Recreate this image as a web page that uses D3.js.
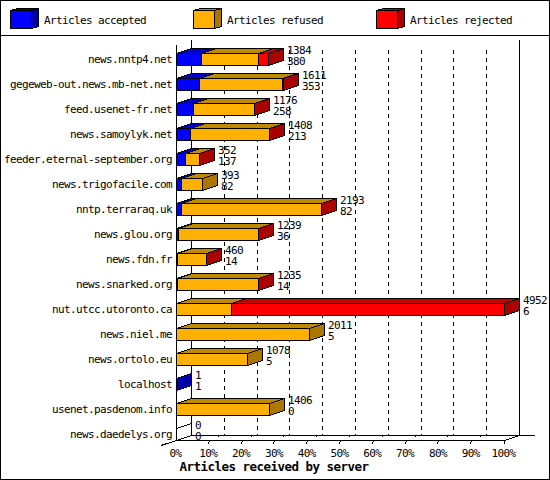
<html>
<head>
<title>Articles received by server</title>
<script src="https://d3js.org/d3.v7.min.js"></script>
<style>
  body { margin: 0; background: #fff; }
  svg { display: block; }
  text { font-family: "DejaVu Sans Mono", monospace; font-size: 11px; letter-spacing: -0.62px; fill: #000; }
  .axislabel { font-weight: bold; font-size: 12.5px; letter-spacing: -0.53px; }
  .face { stroke: #000; stroke-width: 1; shape-rendering: crispEdges; }
  .rule { stroke: #000; stroke-width: 1; shape-rendering: crispEdges; fill: none; }
</style>
</head>
<body>
<svg id="graph" width="550" height="480"></svg>
<script>
const servers = ["news.nntp4.net","gegeweb-out.news.mb-net.net","feed.usenet-fr.net","news.samoylyk.net",
  "feeder.eternal-september.org","news.trigofacile.com","nntp.terraraq.uk","news.glou.org","news.fdn.fr",
  "news.snarked.org","nut.utcc.utoronto.ca","news.niel.me","news.ortolo.eu","localhost",
  "usenet.pasdenom.info","news.daedelys.org"];
const accepted = [380,353,258,213,137,82,82,36,14,14,6,5,5,1,0,0];
const refused  = [855,1248,914,1192,207,311,2106,1200,444,1219,825,2006,1073,0,1406,0];
const rejected = [149,10,4,3,8,0,5,3,2,2,4121,0,0,0,0,0];
const totals   = [1384,1611,1176,1408,352,393,2193,1239,460,1235,4952,2011,1078,1,1406,0];
const percentTicks = [0,10,20,30,40,50,60,70,80,90,100];
const seriesNames = ["Articles accepted","Articles refused","Articles rejected"];
const faceColors = [
  {front:"#0000ff", top:"#0000c8", side:"#0000aa"},
  {front:"#ffb000", top:"#c08a00", side:"#aa7800"},
  {front:"#ff0000", top:"#c80000", side:"#aa0000"}
];

const canvas = d3.select("svg#graph");
const depthX = 15, depthY = -5;

const percentScale = d3.scaleLinear().domain([0,100]).range([176,504]);
const valueScale = d3.scaleLinear().domain([0,d3.max(totals)]).range([176,504]);
const rowScale = d3.scaleBand().domain(servers).range([40,440]);

const poly = pts => pts.map(p => p.join(",")).join(" ");
function line(x1,y1,x2,y2,cls) {
  return canvas.append("line").attr("class",cls||"rule")
    .attr("x1",x1).attr("y1",y1).attr("x2",x2).attr("y2",y2);
}

// frame
canvas.append("rect").attr("class","rule").attr("x",0.5).attr("y",0.5).attr("width",549).attr("height",479);
line(0,35.5,550,35.5);

// legend
const legendX = [10,193,376], legendTextX = [44,227,410];
seriesNames.forEach((name,i)=>{
  const x0 = legendX[i] + 0.5, x1 = x0 + 21, y0 = 10.5, y1 = 28.5, dx = 7, dy = -2;
  canvas.append("polygon").attr("class","face").attr("fill",faceColors[i].top)
    .attr("points",poly([[x0,y0],[x1,y0],[x1+dx,y0+dy],[x0+dx,y0+dy]]));
  canvas.append("polygon").attr("class","face").attr("fill",faceColors[i].side)
    .attr("points",poly([[x1,y0],[x1+dx,y0+dy],[x1+dx,y1+dy],[x1,y1]]));
  canvas.append("rect").attr("class","face").attr("fill",faceColors[i].front)
    .attr("x",x0).attr("y",y0).attr("width",21).attr("height",18);
  canvas.append("text").attr("x",legendTextX[i]).attr("y",24).text(name);
});

// back wall
const backBottom = 435.5;
percentTicks.slice(1,-1).forEach(p=>{
  const x = Math.round(percentScale(p)+depthX)+0.5;
  line(x,50,x,backBottom).attr("stroke-dasharray","4,4");
  // floor marks
  line(x-7,backBottom+2,x-6,backBottom+1).attr("stroke-width",2);
  line(x-15,440.5,x-16,444);
});
line(191.5,40,191.5,backBottom);
line(519.5,40,519.5,backBottom);
line(191.5,backBottom,535,backBottom);
line(176.5,45,176.5,440.5);
line(176.5,440.5,504.5,440.5);
line(191.5,backBottom,161,445.5);
line(519.5,backBottom,504.5,440.5);
line(504.5,440.5,504.5,444);

// bars
servers.forEach((server,i)=>{
  const yTop = rowScale(server) + 13.5, h = 12;
  const stack = [accepted[i],refused[i],rejected[i]];
  let running = 0, lastColor = null;
  stack.forEach((v,s)=>{
    if (v <= 0) return;
    const x0 = Math.round(valueScale(running))+0.5;
    running += v;
    const x1 = Math.round(valueScale(running))+0.5;
    canvas.append("polygon").attr("class","face").attr("fill",faceColors[s].top)
      .attr("points",poly([[x0,yTop],[x1,yTop],[x1+depthX,yTop+depthY],[x0+depthX,yTop+depthY]]));
    if (x1 > x0) canvas.append("rect").attr("class","face").attr("fill",faceColors[s].front)
      .attr("x",x0).attr("y",yTop).attr("width",x1-x0).attr("height",h);
    lastColor = faceColors[s].side;
  });
  const xEnd = Math.round(valueScale(running))+0.5;
  canvas.append("polygon").attr("class","face").attr("fill",lastColor || "none")
    .attr("points",poly([[xEnd,yTop],[xEnd+depthX,yTop+depthY],[xEnd+depthX,yTop+depthY+h],[xEnd,yTop+h]]));
  // value labels
  const labelX = Math.round(valueScale(totals[i])) + depthX + 4;
  canvas.append("text").attr("x",labelX).attr("y",rowScale(server)+14).text(totals[i]);
  canvas.append("text").attr("x",labelX).attr("y",rowScale(server)+25).text(accepted[i]);
});

// axes, text only
const leftAxis = d3.axisLeft(rowScale).tickSize(0).tickPadding(4);
const leftG = canvas.append("g").attr("transform","translate(176,6.5)").call(leftAxis);
leftG.select(".domain").remove();
leftG.selectAll("text").attr("font-family",null).attr("font-size",null);

const bottomAxis = d3.axisBottom(percentScale).tickValues(percentTicks).tickSize(0).tickPadding(0).tickFormat(d=>d+"%");
const bottomG = canvas.append("g").attr("transform","translate(-1,447)").call(bottomAxis);
bottomG.select(".domain").remove();
bottomG.selectAll("text").attr("dy",null).attr("y",10);

canvas.append("text").attr("class","axislabel").attr("x",274).attr("text-anchor","middle").attr("y",471)
  .text("Articles received by server");
</script>
</body>
</html>
